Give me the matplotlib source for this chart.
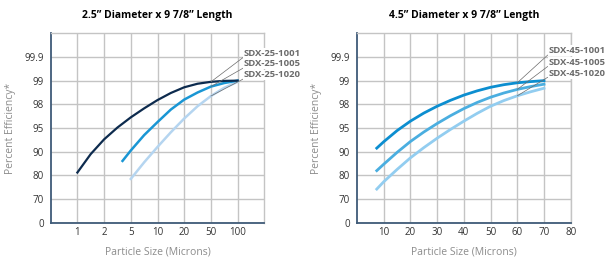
import matplotlib
matplotlib.use("Agg")
import matplotlib.pyplot as plt
import numpy as np

# y axis is a stepped "efficiency" scale: every level gets the same height
y_levels = [0, 70, 80, 90, 95, 98, 99, 99.9, 100]
y_ticks = [0, 70, 80, 90, 95, 98, 99, 99.9]
y_ticklabels = ["0", "70", "80", "90", "95", "98", "99", "99.9"]

# left chart x axis (particle size, stepped)
x_levels_25 = [0, 1, 2, 5, 10, 20, 50, 100, 200]
x_ticks_25 = [1, 2, 5, 10, 20, 50, 100]

# right chart x axis (linear)
x_ticks_45 = [10, 20, 30, 40, 50, 60, 70, 80]

# 2.5" diameter series
x_25_1001 = [1, 1.5, 2, 3.5, 5, 7.5, 10, 15, 20, 35, 50, 75, 100]
y_25_1001 = [81.2, 89.0, 92.6, 95.06, 96.35, 97.49, 98.18, 98.48, 98.72,
             98.87, 98.95, 98.99, 99.0]
x_25_1005 = [4.07, 5, 7.5, 10, 15, 20, 35, 50, 75, 100]
y_25_1005 = [86.1, 90.25, 93.5, 95.75, 97.34, 98.2, 98.5, 98.75, 98.9, 99.0]
x_25_1020 = [5, 7.5, 10, 15, 20, 35, 50, 75, 100]
y_25_1020 = [78.5, 85.5, 91.0, 94.1, 96.2, 97.76, 98.35, 98.7, 98.95]

# 4.5" diameter series
x_45 = [7.4, 10, 15, 20, 25, 30, 35, 40, 45, 50, 55, 60, 65, 70]
y_45_1001 = [90.75, 92.1, 94.45, 95.87, 96.89, 97.76, 98.17, 98.39, 98.57,
             98.72, 98.83, 98.91, 98.96, 99.0]
y_45_1005 = [82.0, 84.7, 89.7, 92.15, 94.15, 95.57, 96.56, 97.46, 98.08,
             98.3, 98.48, 98.63, 98.75, 98.85]
y_45_1020 = [74.2, 77.3, 82.5, 87.4, 90.85, 92.85, 94.7, 95.87, 96.86,
             97.76, 98.16, 98.36, 98.53, 98.68]

names_25 = ["SDX-25-1001", "SDX-25-1005", "SDX-25-1020"]
names_45 = ["SDX-45-1001", "SDX-45-1005", "SDX-45-1020"]
colors_25 = ["#0d2b4e", "#1a96d4", "#b5d5f0"]
colors_45 = ["#0c8ed0", "#4aaee0", "#92cdf0"]

plt.rcParams['font.family'] = ['Open Sans', 'DejaVu Sans']

GRID = "#c4c4c4"
SPINE = "#3f5b78"


def stepped(levels):
    idx = np.arange(len(levels), dtype=float)
    fwd = lambda v: np.interp(v, levels, idx)
    inv = lambda v: np.interp(v, idx, levels)
    return fwd, inv


def style_axes(ax):
    ax.set_yscale('function', functions=stepped(y_levels))
    ax.set_ylim(0, 100)
    ax.set_yticks(y_ticks)
    ax.set_yticklabels(y_ticklabels)
    ax.grid(True, color=GRID, linewidth=1.0)
    ax.set_axisbelow(True)
    for s in ["top", "right"]:
        ax.spines[s].set_color(GRID)
        ax.spines[s].set_linewidth(1.0)
    for s in ["left", "bottom"]:
        ax.spines[s].set_color(SPINE)
        ax.spines[s].set_linewidth(1.3)
    ax.tick_params(length=0, labelsize=7, colors="#333333")
    ax.tick_params(axis='x', pad=3)
    ax.tick_params(axis='y', pad=5)
    ax.set_ylabel("Percent Efficiency*", fontsize=7.5, color="#8c8c8c", labelpad=6)
    ax.set_xlabel("Particle Size (Microns)", fontsize=7.5, color="#8c8c8c", labelpad=6)


def add_labels(ax, names, anchors, text_x, text_ys):
    for name, (ax_x, ax_y), ty in zip(names, anchors, text_ys):
        ax.annotate(name, xy=(ax_x, ax_y), xycoords='data',
                    xytext=(text_x, ty), textcoords='axes fraction',
                    fontsize=6.8, fontweight='bold', color="#6b6b6b",
                    ha='left', va='center', annotation_clip=False,
                    bbox=dict(boxstyle='square,pad=0.1', fc='white', ec='none'),
                    arrowprops=dict(arrowstyle='-', color="#6b6b6b", lw=0.5,
                                    relpos=(0, 0.1), shrinkA=0, shrinkB=0))


fig = plt.figure(figsize=(6.15, 2.61), dpi=100)
ax1 = fig.add_axes([0.0824, 0.1467, 0.3474, 0.7257])
ax2 = fig.add_axes([0.5805, 0.1467, 0.3475, 0.7257])

# left chart
style_axes(ax1)
ax1.set_xscale('function', functions=stepped(x_levels_25))
ax1.set_xlim(0, 200)
ax1.set_xticks(x_ticks_25)
ax1.set_xticklabels([str(v) for v in x_ticks_25])
ax1.plot(x_25_1020, y_25_1020, color=colors_25[2], lw=1.8)
ax1.plot(x_25_1005, y_25_1005, color=colors_25[1], lw=1.8)
ax1.plot(x_25_1001, y_25_1001, color=colors_25[0], lw=1.6)
ax1.set_title("2.5\u201d Diameter x 9 7/8\u201d Length", fontsize=7.5,
              fontweight='bold', pad=11)
add_labels(ax1, names_25,
           [(50, y_25_1001[10]), (50, y_25_1005[7]), (50, y_25_1020[6])],
           0.905, [0.895, 0.838, 0.78])

# right chart
style_axes(ax2)
ax2.set_xlim(0, 80)
ax2.set_xticks(x_ticks_45)
ax2.set_xticklabels([str(v) for v in x_ticks_45])
ax2.plot(x_45, y_45_1020, color=colors_45[2], lw=2.0)
ax2.plot(x_45, y_45_1005, color=colors_45[1], lw=2.0)
ax2.plot(x_45, y_45_1001, color=colors_45[0], lw=2.0)
ax2.set_title("4.5\u201d Diameter x 9 7/8\u201d Length", fontsize=7.5,
              fontweight='bold', pad=11)
add_labels(ax2, names_45,
           [(60, y_45_1001[11]), (60, y_45_1005[11]), (60, y_45_1020[11])],
           0.897, [0.909, 0.848, 0.79])

fig.savefig("out.png", dpi=100)
